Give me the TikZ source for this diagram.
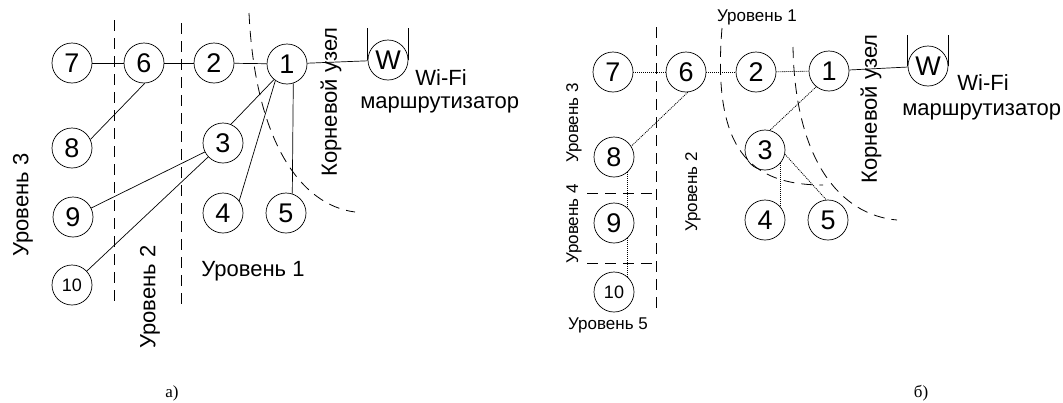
\documentclass[tikz,border=0pt]{standalone}
\usepackage{fontspec}
\setmainfont{Liberation Sans}
\newfontfamily\capfont{Liberation Serif}
\begin{document}
\begin{tikzpicture}[x=1pt,y=-1pt,line width=0.7pt,
  nd/.style={circle,draw,minimum size=40pt,inner sep=0pt,font=\fontsize{27}{27}\selectfont},
  nds/.style={nd,font=\fontsize{18}{18}\selectfont},
  lbl/.style={font=\fontsize{22}{22}\selectfont,inner sep=0pt},
  lbls/.style={font=\fontsize{17}{17}\selectfont,inner sep=0pt},
  dashln/.style={dash pattern=on 11pt off 7pt,line width=0.8pt},
  dotln/.style={dash pattern=on 1pt off 1pt,line width=0.8pt},
  caplbl/.style={font=\capfont\fontsize{17}{17}\selectfont,inner sep=0pt}]
\useasboundingbox (0,0) rectangle (1063,402);

% ---------- panel a ----------
\node[nd] (a7) at (72,63) {7};
\node[nd] (a6) at (144,63) {6};
\node[nd] (a2) at (214,63) {2};
\node[nd] (a1) at (287,64) {1};
\node[nd] (aW) at (388,60) {W};
\node[nd] (a8) at (72,148) {8};
\node[nd] (a3) at (223,143) {3};
\node[nd] (a9) at (73,217) {9};
\node[nd] (a4) at (223,213) {4};
\node[nd] (a5) at (286,213) {5};
\node[nds] (a10) at (72,285) {10};
\draw (aW.west) -- ++(0,-32);
\draw (aW.east) -- ++(0,-32);

\draw (a7) -- (a6);
\draw (a6) -- (a2);
\draw (a2) -- (a1);
\draw (a1) -- (aW);
\draw (a6.-88) -- (a8.25);
\draw (a1.-130) -- (a3.67);
\draw (a1.-125) -- (a4.37);
\draw (a1.-72) -- (a5.72);
\draw (a3) -- (a9);
\draw (a3) -- (a10);

\draw[dashln] (114,20) -- (114,302);
\draw[dashln] (181,23) -- (181,305);
\draw[dashln] (249,13) .. controls (255,140) and (300,205) .. (355,212);

\node[lbl,rotate=90] (la3) at (23,205) {Уровень 3};
\node[lbl,rotate=90] (la2) at (150,297) {Уровень 2};
\node[lbl] (la1) at (253,271) {Уровень 1};
\node[lbl,rotate=90] (laR) at (331,102) {Корневой узел};
\node[lbl,anchor=west] (laWi) at (415,78) {Wi-Fi};
\node[lbl,anchor=west] (laM) at (360,105) {маршрутизатор};
\node[caplbl] (capa) at (172,393) {а)};

% ---------- panel b ----------
\node[nd] (b7) at (613,72) {7};
\node[nd] (b6) at (686,72) {6};
\node[nd] (b2) at (756,72) {2};
\node[nd] (b1) at (829,71) {1};
\node[nd] (bW) at (928,66) {W};
\node[nd] (b8) at (614,157) {8};
\node[nd] (b3) at (765,150) {3};
\node[nd] (b9) at (614,223) {9};
\node[nd] (b4) at (765,220) {4};
\node[nd] (b5) at (828,220) {5};
\node[nds] (b10) at (614,292) {10};
\draw (bW.west) -- ++(0,-31);
\draw (bW.east) -- ++(0,-31);

\draw[dotln] (b7) -- (b6);
\draw[dotln] (b6) -- (b2);
\draw[dotln] (b2) -- (b1);
\draw (b1) -- (bW);
\draw[dotln] (b6.-85) -- (b8.32);
\draw[dotln] (b1.-129) -- (b3.76);
\draw[dotln] (b3.-40) -- (b4.40);
\draw[dotln] (b3.-12) -- (b5.95);
\draw[dotln] (b8.-48) -- (b9.48);
\draw[dotln] (b9.-48) -- (b10.48);

\draw[dashln] (656,27) -- (656,308);
\draw[dashln] (587,193) -- (656,193);
\draw[dashln] (587,263) -- (656,263);
\draw[dashln] (722,28) .. controls (712,150) and (750,185) .. (823,185);
\draw[dashln] (793,47) .. controls (795,160) and (840,215) .. (897,220);

\node[lbls] (lb1) at (757,17) {Уровень 1};
\node[lbls,rotate=90] (lb3) at (574,123) {Уровень 3};
\node[lbls,rotate=90] (lb4) at (574,224) {Уровень 4};
\node[lbls,rotate=90] (lb2) at (693,192) {Уровень 2};
\node[lbls] (lb5) at (608,325) {Уровень 5};
\node[lbl,rotate=90] (lbR) at (871,109) {Корневой узел};
\node[lbl,anchor=west] (lbWi) at (957,83) {Wi-Fi};
\node[lbl,anchor=west] (lbM) at (902,112) {маршрутизатор};
\node[caplbl] (capb) at (921,393) {б)};
\end{tikzpicture}
\end{document}
